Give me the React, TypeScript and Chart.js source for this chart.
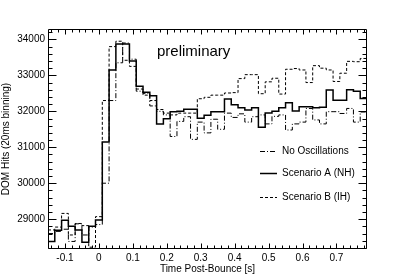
import React, { useEffect, useRef } from "react";
import { Chart, registerables } from "chart.js";

Chart.register(...registerables);

// ---- data ----
const BIN_START = -0.15;
const BIN_WIDTH = 0.02;
const X_MIN = -0.15;
const X_MAX = 0.79;
const Y_MIN = 28170;
const Y_MAX = 34290;
const X_TICKS = [-0.1, 0, 0.1, 0.2, 0.3, 0.4, 0.5, 0.6, 0.7];
const Y_TICKS = [29000, 30000, 31000, 32000, 33000, 34000];
const X_TITLE = "Time Post-Bounce [s]";
const Y_TITLE = "DOM Hits (20ms binning)";
const ANNOTATION = "preliminary";
const SERIES_LABELS = ["No Oscillations", "Scenario A (NH)", "Scenario B (IH)"];

const noOscillations = [
  28600, 28660, 28720, 28380, 28870, 28560, 28780, 28850, 30000, 32300,
  33350, 33900, 33450, 32560, 32500, 32150, 32000, 31900, 31300, 31720,
  31850, 31220, 31700, 31400, 31780, 31500, 31950, 31830, 31930, 31700,
  31850, 31900, 31650, 31860, 31900, 31480, 31650, 31700, 32080, 31760,
  31650, 31990, 31990, 31940, 32080, 31700, 31980,
];
const scenarioA = [
  28380, 28690, 28970, 28800, 28700, 28360, 28800, 28980, 31150, 33150,
  33870, 33870, 33400, 32700, 32530, 32430, 31650, 31790, 31990, 32000,
  32060, 32060, 31810, 31890, 31990, 31990, 32340, 32180, 32100, 32040,
  32100, 31560, 31950, 32000, 32100, 32240, 32010, 32130, 32130, 32100,
  32110, 32590, 32310, 32310, 32600, 32560, 32360,
];
const scenarioB = [
  28700, 28780, 29160, 28560, 28880, 28820, 28220, 29070, 32300, 33800,
  33950, 33420, 33250, 32620, 32450, 32300, 32050, 31950, 31900, 31950,
  31950, 31950, 32350, 32390, 32450, 32450, 32510, 32520, 32910, 33020,
  33020, 32490, 32820, 32920, 32480, 33170, 33190, 33150, 32800, 33270,
  33200, 33150, 32830, 33060, 33390, 33380, 33470,
];

const FONT = "'Liberation Sans', Arial, Helvetica, sans-serif";

function toSteps(vals: number[]) {
  const pts = vals.map((v, i) => ({ x: +(BIN_START + i * BIN_WIDTH).toFixed(2), y: v }));
  pts.push({ x: X_MAX, y: vals[vals.length - 1] });
  return pts;
}

const fmtX = (v: number) => {
  const r = Math.round(v * 10) / 10;
  return r === 0 ? "0" : r.toFixed(1);
};

const frameTicks = {
  id: "frameTicks",
  afterDraw(chart: any) {
    const { ctx, chartArea: a, scales } = chart;
    const xs = scales.x;
    const ys = scales.y;
    ctx.save();
    ctx.strokeStyle = "#000";
    ctx.lineWidth = 1;
    const L = Math.round(a.left) + 0.5;
    const R = Math.round(a.right) - 0.5;
    const T = Math.round(a.top) + 0.5;
    const B = Math.round(a.bottom) - 0.5;
    ctx.beginPath();
    ctx.rect(L, T, R - L, B - T);
    // y ticks
    for (let v = Math.ceil(Y_MIN / 200) * 200; v <= Y_MAX; v += 200) {
      const y = Math.round(ys.getPixelForValue(v)) + 0.5;
      const len = v % 1000 === 0 ? 8 : 4;
      ctx.moveTo(L, y);
      ctx.lineTo(L + len, y);
      ctx.moveTo(R, y);
      ctx.lineTo(R - len, y);
    }
    // x ticks
    for (let i = Math.ceil(X_MIN / 0.02 - 1e-6); i * 0.02 <= X_MAX + 1e-9; i++) {
      const v = i * 0.02;
      const x = Math.round(xs.getPixelForValue(v)) + 0.5;
      const len = i % 5 === 0 ? 5 : 3;
      ctx.moveTo(x, B);
      ctx.lineTo(x, B - len);
      ctx.moveTo(x, T);
      ctx.lineTo(x, T + len);
    }
    ctx.stroke();

    // annotation
    ctx.fillStyle = "#000";
    ctx.font = `15px ${FONT}`;
    ctx.textBaseline = "middle";
    ctx.textAlign = "left";
    ctx.fillText(ANNOTATION, a.left + 109, 52);

    // legend
    const legendY = [151, 173, 197];
    ctx.font = `10px ${FONT}`;
    chart.data.datasets.forEach((ds: any, i: number) => {
      const y = legendY[i] + 0.5;
      ctx.save();
      ctx.lineWidth = ds.borderWidth;
      ctx.setLineDash(ds.borderDash || []);
      ctx.beginPath();
      ctx.moveTo(260, y);
      ctx.lineTo(277, y);
      ctx.stroke();
      ctx.restore();
      ctx.fillText(ds.label, 282, legendY[i]);
    });
    ctx.restore();
  },
};

export default function App() {
  const ref = useRef<HTMLCanvasElement>(null);
  useEffect(() => {
    if (!ref.current) return;
    const chart = new Chart(ref.current, {
      type: "line",
      data: {
        datasets: [
          {
            label: SERIES_LABELS[0],
            data: toSteps(noOscillations),
            borderColor: "#000",
            borderWidth: 1,
            borderDash: [5, 2, 1, 2],
            stepped: true,
            pointRadius: 0,
            fill: false,
          },
          {
            label: SERIES_LABELS[1],
            data: toSteps(scenarioA),
            borderColor: "#000",
            borderWidth: 1.5,
            borderDash: [],
            stepped: true,
            pointRadius: 0,
            fill: false,
          },
          {
            label: SERIES_LABELS[2],
            data: toSteps(scenarioB),
            borderColor: "#000",
            borderWidth: 1,
            borderDash: [3, 2],
            stepped: true,
            pointRadius: 0,
            fill: false,
          },
        ],
      },
      options: {
        animation: false,
        responsive: false,
        layout: { padding: { top: 29, right: 32, left: 0, bottom: 0 } },
        plugins: { legend: { display: false }, tooltip: { enabled: false } },
        scales: {
          x: {
            type: "linear",
            min: X_MIN,
            max: X_MAX,
            grid: { display: false, drawTicks: false },
            border: { display: false },
            afterBuildTicks: (s: any) => {
              s.ticks = X_TICKS.map((v) => ({ value: v }));
            },
            afterFit: (s: any) => {
              s.height = 30;
            },
            ticks: {
              color: "#000",
              font: { family: FONT, size: 10 },
              padding: 3,
              maxRotation: 0,
              autoSkip: false,
              callback: (v: any) => fmtX(Number(v)),
            },
            title: {
              display: true,
              text: X_TITLE,
              color: "#000",
              font: { family: FONT, size: 10 },
              padding: { top: 0, bottom: 4 },
            },
          },
          y: {
            type: "linear",
            min: Y_MIN,
            max: Y_MAX,
            grid: { display: false, drawTicks: false },
            border: { display: false },
            afterBuildTicks: (s: any) => {
              s.ticks = Y_TICKS.map((v) => ({ value: v }));
            },
            afterFit: (s: any) => {
              s.width = 48;
            },
            ticks: {
              color: "#000",
              font: { family: FONT, size: 10 },
              padding: 3,
              autoSkip: false,
              callback: (v: any) => String(v),
            },
            title: {
              display: true,
              text: Y_TITLE,
              color: "#000",
              font: { family: FONT, size: 10 },
              padding: { top: 0, bottom: 0 },
            },
          },
        },
      },
      plugins: [frameTicks],
    });
    return () => chart.destroy();
  }, []);
  return (
    <div style={{ position: "absolute", left: 0, top: 0, width: 399, height: 279, background: "#fff" }}>
      <canvas ref={ref} width={399} height={279} />
    </div>
  );
}
